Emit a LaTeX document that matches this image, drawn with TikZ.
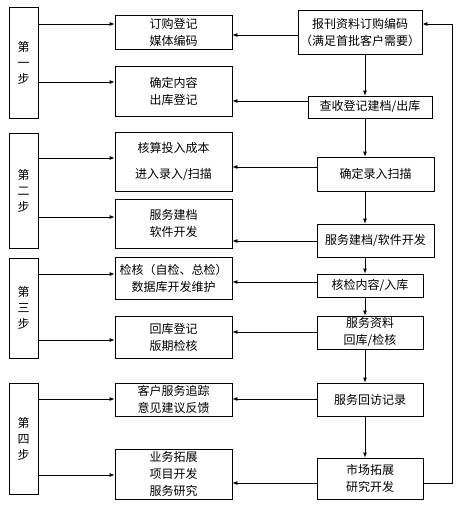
\documentclass[tikz,border=0pt]{standalone}
\usepackage{fontspec}
\newfontfamily\cjk{Noto Sans CJK SC}
\usetikzlibrary{arrows.meta}
\XeTeXlinebreaklocale "zh"

\tikzset{
  box/.style={draw,line width=0.8pt,inner sep=0pt,align=center,
    font=\cjk\fontsize{12}{17}\selectfont},
  stepbox/.style={box,minimum width=29pt,text width=12.5pt,
    font=\cjk\fontsize{12}{16}\selectfont},
  midbox/.style={box,minimum width=117pt},
  arr/.style={line width=0.8pt,-{Latex[length=5pt,width=4pt]}},
  link/.style={line width=0.8pt}
}

\begin{document}
\begin{tikzpicture}[x=1pt,y=-1pt]
  \useasboundingbox (0,0) rectangle (458,512);
  % step boxes
  \node[stepbox,minimum height=111pt] (s1) at (23.5,62.5) {第一步};
  \node[stepbox,minimum height=115pt] (s2) at (23.5,190.5) {第二步};
  \node[stepbox,minimum height=100pt] (s3) at (23.5,308) {第三步};
  \node[stepbox,minimum height=111pt] (s4) at (23.5,438.5) {第四步};
  % middle boxes
  \node[midbox,minimum height=34pt] (m1) at (173.5,32) {订购登记\\媒体编码};
  \node[midbox,minimum height=50pt] (m2) at (173.5,91) {确定内容\\出库登记};
  \node[midbox,minimum height=59pt] (m3) at (173.5,161.5) {核算投入成本\\[8pt]进入录入/扫描};
  \node[midbox,minimum height=49pt] (m4) at (173.5,223.5) {服务建档\\软件开发};
  \node[midbox,minimum height=42pt] (m5) at (173.5,278) {检核（自检、总检）\\数据库开发维护};
  \node[midbox,minimum height=42pt] (m6) at (173.5,337) {回库登记\\版期检核};
  \node[midbox,minimum height=33pt] (m7) at (173.5,399.5) {客户服务追踪\\意见建议反馈};
  \node[midbox,minimum height=50pt] (m8) at (173.5,474) {业务拓展\\项目开发\\服务研究};
  % right column
  \node[box,minimum width=124pt,minimum height=44pt] (r1) at (360,32)
    {报刊资料订购编码\\（满足首批客户需要）};
  \node[box,minimum width=124pt,minimum height=22pt] (r2) at (370,107) {查收登记建档/出库};
  \node[box,minimum width=117pt,minimum height=34pt] (r3) at (375.5,174) {确定录入扫描};
  \node[box,minimum width=117pt,minimum height=33pt] (r4) at (375.5,240.5) {服务建档/软件开发};
  \node[box,minimum width=106pt,minimum height=23pt] (r5) at (370,285.5) {核检内容/入库};
  \node[box,minimum width=106pt,minimum height=33pt] (r6) at (370,332.5) {服务资料\\回库/检核};
  \node[box,minimum width=106pt,minimum height=33pt] (r7) at (370,399.5) {服务回访记录};
  \node[box,minimum width=106pt,minimum height=41pt] (r8) at (370,478.5) {市场拓展\\研究开发};
  \coordinate (trunk) at (365,0);
  \coordinate (back) at (452,0);
  % main flow
  \draw[arr] (r1.south -| trunk) -- (r2.north -| trunk);
  \draw[arr] (r2.south -| trunk) -- (r3.north -| trunk);
  \draw[arr] (r3.south -| trunk) -- (r4.north -| trunk);
  \draw[arr] (r4.south -| trunk) -- (r5.north -| trunk);
  \draw[arr] (r5.south -| trunk) -- (r6.north -| trunk);
  \draw[arr] (r6.south -| trunk) -- (r7.north -| trunk);
  \draw[arr] (r7.south -| trunk) -- (r8.north -| trunk);
  % feedback loop
  \draw[arr] (r8.east |- 0,483) -- (back |- 0,483) -- (back |- 0,24) -- (r1.east |- 0,24);
  % right to middle
  \draw[arr] (r1.west |- 0,35) -- (m1.east |- 0,35);
  \draw[arr] (r2.west |- 0,101) -- (m2.east |- 0,101);
  \draw[arr] (r3.west |- 0,167) -- (m3.east |- 0,167);
  \draw[arr] (r4.west |- 0,241) -- (m4.east |- 0,241);
  \draw[arr] (r5.west |- 0,282) -- (m5.east |- 0,282);
  \draw[arr] (r6.west |- 0,332) -- (m6.east |- 0,332);
  \draw[arr] (r7.west |- 0,399) -- (m7.east |- 0,399);
  \draw[arr] (r8.west |- 0,483) -- (m8.east |- 0,483);
  % steps to middle
  \draw[arr] (s1.east |- 0,24) -- (m1.west |- 0,24);
  \draw[arr] (s1.east |- 0,82) -- (m2.west |- 0,82);
  \draw[arr] (s2.east |- 0,158) -- (m3.west |- 0,158);
  \draw[arr] (s2.east |- 0,217) -- (m4.west |- 0,217);
  \draw[arr] (s3.east |- 0,274) -- (m5.west |- 0,274);
  \draw[arr] (s3.east |- 0,340) -- (m6.west |- 0,340);
  \draw[arr] (s4.east |- 0,399) -- (m7.west |- 0,399);
  \draw[arr] (s4.east |- 0,475) -- (m8.west |- 0,475);
\end{tikzpicture}
\end{document}
